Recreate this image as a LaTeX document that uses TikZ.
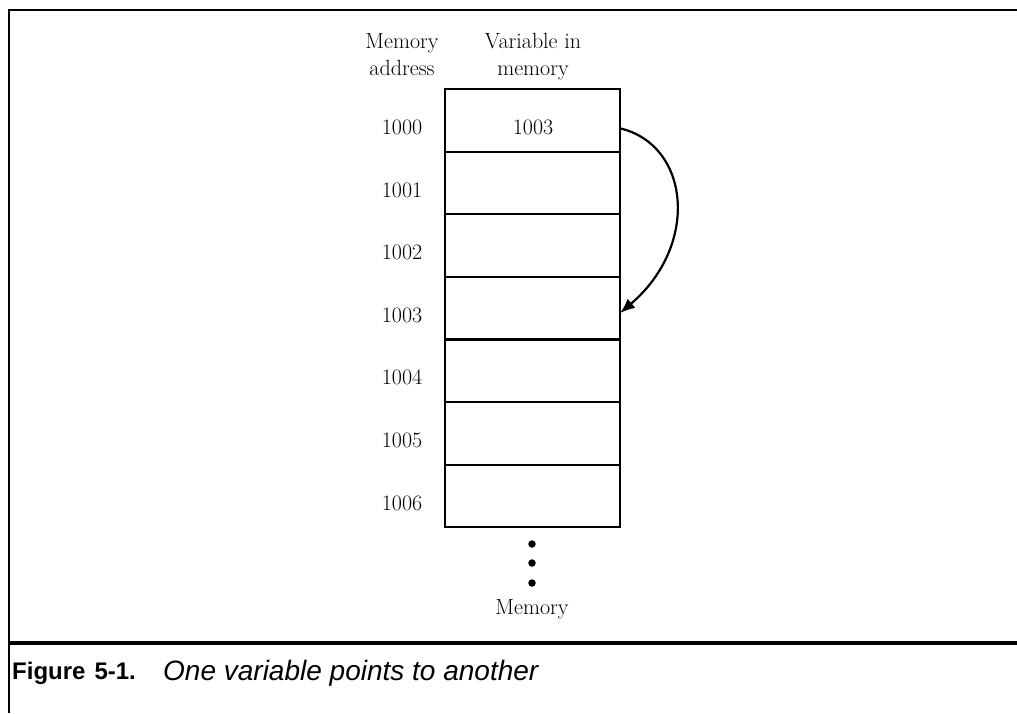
\documentclass[tikz,border=0pt]{standalone}
\usepackage{fontspec}
\newfontfamily\capsans{Liberation Sans}
\usetikzlibrary{arrows.meta}
\begin{document}
\begin{tikzpicture}[x=1pt,y=-1pt,
  cell/.style={draw,line width=2.2pt,minimum width=175pt,minimum height=62.6pt,inner sep=0pt,outer sep=0pt},
  lbl/.style={font=\fontsize{22}{26}\selectfont,inner sep=0pt},
  head/.style={font=\fontsize{22}{27}\selectfont,align=center,inner sep=0pt,anchor=base},
  frame/.style={line width=2.6pt},
  ptr/.style={line width=2.2pt,-{Latex[length=15pt,width=12pt]}},
  memdot/.style={fill,circle,inner sep=0pt,minimum size=7.5pt}
]
\useasboundingbox (0,0) rectangle (1017,713);
% frame
\draw[frame] (9,713) -- (9,10) -- (1017,10);
\draw[line width=4.2pt] (9,643) -- (1017,643);
% headers
\node[head] (h1) at (402,75) {Memory\\address};
\node[head] (h2) at (533,75) {Variable in\\memory};
% cells
\foreach \i/\a in {0/1000,1/1001,2/1002,3/1003,4/1004,5/1005,6/1006}{
  \node[cell] (c\i) at (532.5,{89+62.6*(\i+0.5)}) {};
  \node[lbl] (a\i) at (402,{89+62.6*(\i+0.5)+7}) {\a};
}
\node[lbl] (v0) at (533,127) {1003};
% pointer
\draw[ptr] ([yshift=-8pt]c0.east) .. controls (690,145) and (700,245) .. ([yshift=-5pt]c3.east);
% dots
\node[memdot] (d1) at (532,544) {};
\node[memdot] (d2) at (532,563) {};
\node[memdot] (d3) at (532,583) {};
\node[head] (mem) at (532,614) {Memory};
% caption
\node[anchor=base west,inner sep=0pt,font=\capsans\bfseries\fontsize{24}{28}\selectfont] (fig) at (12,679) {Figure\hspace{9pt}5-1.};
\node[anchor=base west,inner sep=0pt,font=\capsans\itshape\fontsize{28}{32}\selectfont] (cap) at (163,680) {One variable points to another};
\end{tikzpicture}
\end{document}
